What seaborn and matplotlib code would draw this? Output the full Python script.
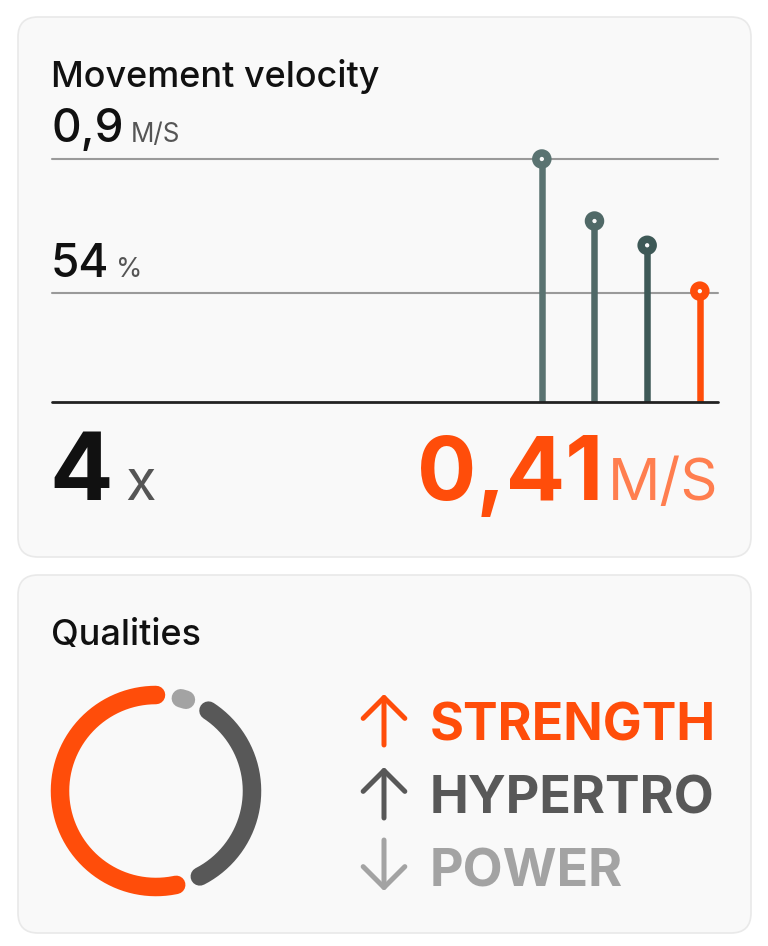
import numpy as np
import pandas as pd
import matplotlib
matplotlib.use("Agg")
import matplotlib.pyplot as plt
from matplotlib.patches import FancyBboxPatch
import seaborn as sns

# ---------------- data ----------------
reps = [1, 2, 3, 4]
velocities = [0.90, 0.67, 0.58, 0.41]          # m/s per repetition
stem_colors = ["#5a7371", "#506967", "#3e5957", "#ff4d0a"]
max_velocity = 0.9
loss_pct = 54
last_velocity_label = "0,41"
rep_count = 4

qualities = ["STRENGTH", "HYPERTRO", "POWER"]
quality_share = [61, 38, 1]
quality_trend = ["up", "up", "down"]
quality_colors = ["#ff4d0a", "#585858", "#a3a3a3"]

# ---------------- style ----------------
sns.set_theme(style="white")
plt.rcParams["font.family"] = ["Inter", "DejaVu Sans"]

W, H = 768, 946
fig = plt.figure(figsize=(W / 100, H / 100), dpi=100)
fig.patch.set_facecolor("white")

# page axes in pixel coordinates
page = fig.add_axes([0, 0, 1, 1])
page.set_xlim(0, W)
page.set_ylim(H, 0)
page.axis("off")

card_fc = "#f9f9f9"
card_ec = "#e9e9e9"
for (y0, y1) in [(17, 557), (575, 933)]:
    page.add_patch(FancyBboxPatch((18 + 20, y0 + 20), 733 - 40, (y1 - y0) - 40,
                                  boxstyle="round,pad=20", fc=card_fc, ec=card_ec,
                                  lw=1.2, zorder=0))

def px2pt(p):
    return p * 72 / 100

# ---------------- card 1 texts ----------------
page.text(51, 87, "Movement velocity", fontsize=px2pt(36), color="#111111",
          va="baseline", ha="left", fontweight=500)
page.text(51, 142, "0,9", fontsize=px2pt(46), color="#111111", va="baseline", fontweight=500)
page.text(131, 142, "M/S", fontsize=px2pt(26), color="#555555", va="baseline")
page.text(51, 277, f"{loss_pct}", fontsize=px2pt(46), color="#111111", va="baseline", fontweight=500)
page.text(116, 277, "%", fontsize=px2pt(27), color="#555555", va="baseline")

page.text(49, 500, f"{rep_count}", fontsize=px2pt(94), color="#111111",
          fontweight="bold", va="baseline")
page.text(125, 500, "x", fontsize=px2pt(56), color="#555555", va="baseline")
page.text(603, 500, last_velocity_label, fontsize=px2pt(88), color="#ff4d0a",
          fontweight="bold", va="baseline", ha="right")
page.text(718, 500, "M/S", fontsize=px2pt(58), color="#ff7e4f",
          va="baseline", ha="right")

# ---------------- lollipop chart ----------------
x_left, x_right = 52, 718
y_top, y_base = 159, 401.7
ax = fig.add_axes([x_left / W, 1 - y_base / H, (x_right - x_left) / W, (y_base - y_top) / H])
ax.set_facecolor("none")
ax.set_xlim(-8.30, 4.345)
ax.set_ylim(0, max_velocity)
for s in ax.spines.values():
    s.set_visible(False)
ax.set_xticks([])
ax.set_yticks([])

ax.axhline(max_velocity, color="#9a9a9a", lw=1.5, zorder=1, clip_on=False)
ax.axhline(velocities[-1] - 0.008, color="#9a9a9a", lw=1.5, zorder=1, clip_on=False)
ax.axhline(0, color="#222222", lw=2.0, zorder=3, clip_on=False)

df = pd.DataFrame({"rep": reps, "velocity": velocities, "color": stem_colors})
ax.vlines(df["rep"], 0, df["velocity"], colors=df["color"], lw=px2pt(6.5),
          zorder=2, clip_on=False)
sns.scatterplot(data=df, x="rep", y="velocity", hue="rep",
                palette=dict(zip(reps, stem_colors)), legend=False, ax=ax,
                s=px2pt(12) ** 2, linewidth=px2pt(7.5),
                zorder=4, clip_on=False)
coll = ax.collections[-1]
coll.set_sizes([px2pt(12) ** 2] * len(reps))
coll.set_linewidths([px2pt(7.5)] * len(reps))
coll.set_facecolor(card_fc)
coll.set_edgecolors(stem_colors)
ax.set_xlabel("")
ax.set_ylabel("")

# ---------------- card 2 ----------------
page.text(51, 645, "Qualities", fontsize=px2pt(36), color="#111111", va="baseline",
          fontweight=500)

# donut made of rounded arcs
cx, cy, r = 156, 791, 96
gap = 15.0
avail = 360 - gap * len(quality_share)
total = sum(quality_share)
start = 90.0
for share, col in zip(quality_share, quality_colors):
    sweep = avail * share / total
    th = np.radians(np.linspace(start, start + sweep, 200))
    page.plot(cx + r * np.cos(th), cy - r * np.sin(th), color=col,
              lw=px2pt(18.5), solid_capstyle="round", zorder=3)
    start += sweep + gap

# legend rows
baselines = [740, 813, 886]
for name, trend, col, yb in zip(qualities, quality_trend, quality_colors, baselines):
    page.text(430, yb, name, fontsize=px2pt(52), color=col, fontweight="bold",
              va="baseline", ha="left")
    top, bot = yb - 46, yb + 5
    if trend == "up":
        tail, head = (384, bot), (384, top)
    else:
        tail, head = (384, top), (384, bot)
    page.annotate("", xy=head, xytext=tail,
                  arrowprops=dict(arrowstyle="->,head_length=0.75,head_width=0.75",
                                  mutation_scale=20,
                                  color=col, lw=px2pt(5), capstyle="round",
                                  joinstyle="round", shrinkA=0, shrinkB=0))

fig.savefig("out.png", dpi=100, facecolor="white")
